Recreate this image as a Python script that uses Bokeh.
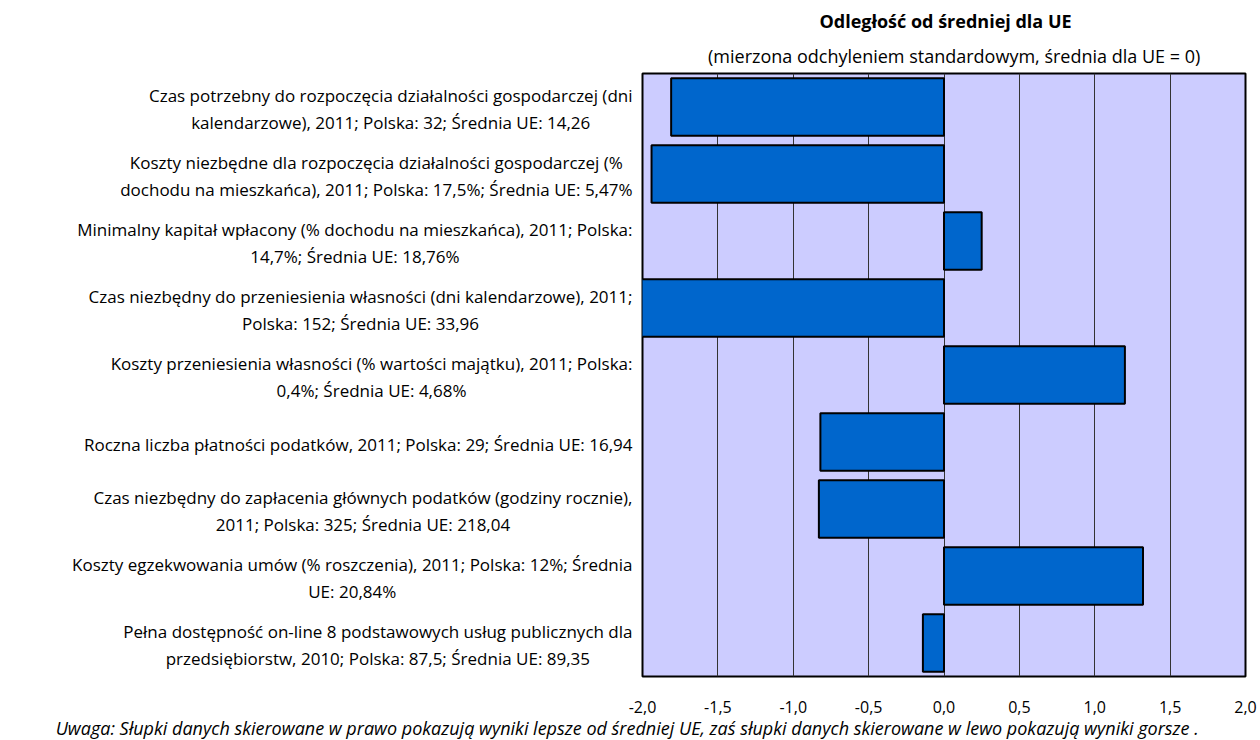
from bokeh.plotting import figure
from bokeh.models import FactorRange, FixedTicker, Range1d
from bokeh.layouts import column, row
from bokeh.core.properties import value
from bokeh.embed import file_html
from bokeh.resources import INLINE

categories = [
    "Czas potrzebny do rozpoczęcia działalności gospodarczej (dni\nkalendarzowe), 2011; Polska: 32; Średnia UE: 14,26",
    "Koszty niezbędne dla rozpoczęcia działalności gospodarczej (%\ndochodu na mieszkańca), 2011; Polska: 17,5%; Średnia UE: 5,47%",
    "Minimalny kapitał wpłacony (% dochodu na mieszkańca), 2011; Polska:\n14,7%; Średnia UE: 18,76%",
    "Czas niezbędny do przeniesienia własności (dni kalendarzowe), 2011;\nPolska: 152; Średnia UE: 33,96",
    "Koszty przeniesienia własności (% wartości majątku), 2011; Polska:\n0,4%; Średnia UE: 4,68%",
    "Roczna liczba płatności podatków, 2011; Polska: 29; Średnia UE: 16,94",
    "Czas niezbędny do zapłacenia głównych podatków (godziny rocznie),\n2011; Polska: 325; Średnia UE: 218,04",
    "Koszty egzekwowania umów (% roszczenia), 2011; Polska: 12%; Średnia\nUE: 20,84%",
    "Pełna dostępność on-line 8 podstawowych usług publicznych dla\nprzedsiębiorstw, 2010; Polska: 87,5; Średnia UE: 89,35",
]
values = [-1.81, -1.94, 0.25, -2.03, 1.20, -0.82, -0.83, 1.32, -0.14]
x_ticks = [-2.0, -1.5, -1.0, -0.5, 0.0, 0.5, 1.0, 1.5, 2.0]
x_tick_labels = ["-2,0", "-1,5", "-1,0", "-0,5", "0,0", "0,5", "1,0", "1,5", "2,0"]

title_text = "Odległość od średniej dla UE"
subtitle_text = "(mierzona odchyleniem standardowym,  średnia dla UE = 0)"
note_text = "Uwaga:  Słupki danych skierowane w prawo pokazują wyniki lepsze od średniej UE, zaś słupki danych skierowane w lewo pokazują wyniki gorsze ."

FONT = "Open Sans"
TOTAL_W = 1258
LEFT_W = 640
FRAME_LEFT = 642
BORDER_RIGHT = 13
FRAME_W = TOTAL_W - FRAME_LEFT - BORDER_RIGHT
X_MIN, X_MAX = x_ticks[0], x_ticks[-1]
SCALE = FRAME_W / (X_MAX - X_MIN)
TOP_H = 71
FRAME_H = 603
EDGE = 2
MID_H = FRAME_H + 2 * EDGE
STRIP_H = 740 - TOP_H - MID_H


def text_fig(w, h, y_range=None, border=0):
    f = figure(width=w, height=h, x_range=Range1d(0, w),
               y_range=y_range if y_range is not None else Range1d(0, h),
               output_backend="svg", toolbar_location=None,
               min_border_left=0, min_border_right=0,
               min_border_top=border, min_border_bottom=border)
    f.axis.visible = False
    f.grid.visible = False
    f.outline_line_color = None
    f.background_fill_color = "white"
    f.border_fill_color = "white"
    return f


# main bar chart
y_range = FactorRange(factors=list(reversed(categories)))
p = figure(
    width=TOTAL_W - LEFT_W, height=MID_H,
    y_range=y_range, x_range=Range1d(X_MIN, X_MAX),
    output_backend="svg", toolbar_location=None,
    min_border_left=FRAME_LEFT - LEFT_W, min_border_right=BORDER_RIGHT,
    min_border_top=EDGE, min_border_bottom=EDGE,
)
p.hbar(y=categories, left=0, right=values, height=0.86,
       fill_color="#0066CC", line_color="black", line_width=2)
p.background_fill_color = "#CCCCFF"
p.border_fill_color = "white"
p.outline_line_color = "black"
p.outline_line_width = 2
p.axis.visible = False
p.xgrid.ticker = FixedTicker(ticks=x_ticks)
p.xgrid.grid_line_color = "#333333"
p.xgrid.grid_line_width = 1
p.ygrid.grid_line_color = None

# x axis strip: same scale as the bar chart, frame stretched to full width;
# the note is the axis title
strip = figure(
    width=TOTAL_W, height=STRIP_H,
    x_range=Range1d(X_MIN - FRAME_LEFT / SCALE, X_MAX + BORDER_RIGHT / SCALE),
    y_range=Range1d(0, 1),
    output_backend="svg", toolbar_location=None,
    min_border_left=0, min_border_right=0,
    min_border_top=0, min_border_bottom=STRIP_H - 1,
)
strip.yaxis.visible = False
strip.grid.visible = False
strip.outline_line_color = None
strip.background_fill_color = "white"
strip.border_fill_color = "white"
ax = strip.xaxis[0]
ax.ticker = FixedTicker(ticks=x_ticks)
ax.major_label_overrides = {t: l for t, l in zip(x_ticks, x_tick_labels)}
ax.axis_line_color = None
ax.major_tick_line_color = None
ax.minor_tick_line_color = None
ax.major_tick_out = 0
ax.major_tick_in = 0
ax.major_label_standoff = 22
ax.major_label_text_font = FONT
ax.major_label_text_font_size = "16px"
ax.major_label_text_color = "black"
ax.axis_label = note_text
ax.axis_label_standoff = 0
ax.axis_label_text_font = FONT
ax.axis_label_text_font_size = "18px"
ax.axis_label_text_font_style = "italic"
ax.axis_label_text_color = "black"

# category labels
left = text_fig(LEFT_W, MID_H, y_range=y_range, border=EDGE)
left.text(x=[LEFT_W - 8] * len(categories), y=categories, text=categories,
          anchor="center_right", text_align="center", y_offset=2,
          text_font=value(FONT), text_font_size="17px", text_color="black",
          text_line_height=1.2)

# titles
top = text_fig(TOTAL_W, TOP_H)
top.text(x=[945], y=[TOP_H - 20], text=[title_text], text_align="center",
         text_baseline="middle", text_font=value(FONT), text_font_size="18px",
         text_font_style="bold", text_color="black")
top.text(x=[956], y=[TOP_H - 55], text=[subtitle_text], text_align="center",
         text_baseline="middle", text_font=value(FONT), text_font_size="18px",
         text_color="black")

layout = column(top, row(left, p), strip)
open("out.html", "w").write(file_html(layout, INLINE))
